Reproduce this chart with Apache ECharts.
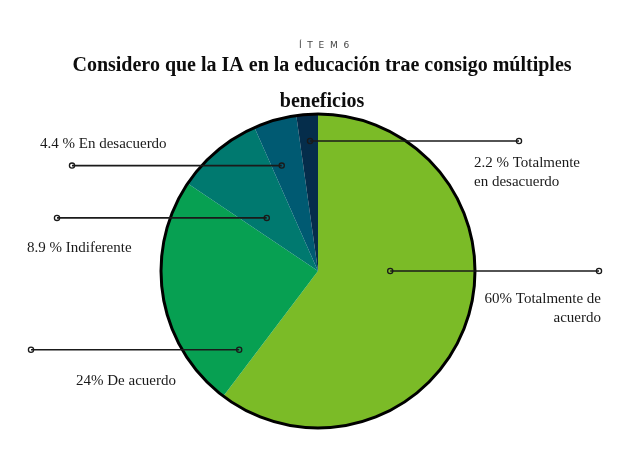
<!DOCTYPE html>
<html>
<head>
<meta charset="utf-8">
<script src="https://cdn.jsdelivr.net/npm/echarts@6/dist/echarts.min.js"></script>
<style>
  html, body { margin: 0; padding: 0; background: #fff; }
  #chart-container { width: 620px; height: 472px; }
</style>
</head>
<body>
<div id="chart-container"></div>
<script>
// data
var categories = ["Totalmente de acuerdo", "De acuerdo", "Indiferente", "En desacuerdo", "Totalmente en desacuerdo"];
var values = [60, 24, 8.9, 4.4, 2.2];
var labelTexts = ["60% Totalmente de\nacuerdo", "24% De acuerdo", "8.9 % Indiferente", "4.4 % En desacuerdo", "2.2 % Totalmente\nen desacuerdo"];
var colors = ["#7bbb27", "#07a052", "#00796f", "#005a72", "#052d4b"];

// pie geometry (px)
var cx = 318, cy = 271, R = 157;
// leader line anchors: angle clockwise from top (deg), fraction of radius
var anchorAngle = [90, 225, 316, 341, 356.5];
var anchorFrac = [0.46, 0.71, 0.47, 0.71, 0.83];
var lineEndX = [599, 31, 57, 72, 519];
// label placement relative to the leader line
var labelX = [601, 76, 27, 40, 474];
var labelDy = [19, 22, 21, -12, 13];
var labelAlign = ["right", "left", "left", "left", "left"];
var labelVAlign = ["top", "top", "top", "bottom", "top"];

function anchor(i) {
  var a = anchorAngle[i] * Math.PI / 180;
  var r = R * anchorFrac[i];
  return [cx + r * Math.sin(a), cy - r * Math.cos(a)];
}

var dom = document.getElementById("chart-container");
var myChart = echarts.init(dom, null, { renderer: "canvas" });

var pieData = categories.map(function (c, i) {
  return { name: c, value: values[i], itemStyle: { color: colors[i] } };
});

// leader lines with small rings at both ends, drawn over the pie
var leaders = [];
values.forEach(function (v, i) {
  var p = anchor(i);
  var e = [lineEndX[i], p[1]];
  leaders.push({
    type: "line",
    z: 95,
    shape: { x1: p[0], y1: p[1], x2: e[0], y2: e[1] },
    style: { stroke: "#1a1a1a", lineWidth: 1.6 }
  });
  [p, e].forEach(function (q) {
    leaders.push({
      type: "circle",
      z: 100,
      shape: { cx: q[0], cy: q[1], r: 2.6 },
      style: { fill: "transparent", stroke: "#1a1a1a", lineWidth: 1.3 }
    });
  });
});

var option = {
  backgroundColor: "#fff",
  title: [
    {
      text: "Í  T  E  M  6",
      left: 319,
      top: 36,
      textAlign: "center",
      textStyle: { fontFamily: "DejaVu Sans", fontSize: 9, fontWeight: "normal", color: "#444" }
    },
    {
      text: "Considero que la IA en la educación trae consigo múltiples\nbeneficios",
      left: 317,
      top: 43,
      textAlign: "center",
      textStyle: {
        fontFamily: "Liberation Serif",
        fontSize: 20,
        fontWeight: "bold",
        lineHeight: 36,
        color: "#0d0d0d"
      }
    }
  ],
  graphic: [
    {
      type: "circle",
      z: 90,
      shape: { cx: cx, cy: cy, r: R },
      style: { fill: null, stroke: "#000", lineWidth: 3 }
    }
  ].concat(leaders),
  series: [
    {
      type: "pie",
      center: [cx, cy],
      radius: R,
      startAngle: 90,
      clockwise: true,
      silent: true,
      data: pieData,
      itemStyle: { borderWidth: 0 },
      label: {
        show: true,
        position: "outside",
        overflow: "none",
        formatter: function (p) { return labelTexts[p.dataIndex]; },
        fontFamily: "Liberation Serif",
        fontSize: 15,
        lineHeight: 19,
        color: "#1a1a1a"
      },
      labelLine: { show: false },
      labelLayout: function (p) {
        var i = p.dataIndex;
        var a = anchor(i);
        return {
          x: labelX[i],
          y: a[1] + labelDy[i],
          align: labelAlign[i],
          verticalAlign: labelVAlign[i]
        };
      }
    }
  ]
};

myChart.setOption(option);
window.addEventListener("resize", myChart.resize);
</script>
</body>
</html>
